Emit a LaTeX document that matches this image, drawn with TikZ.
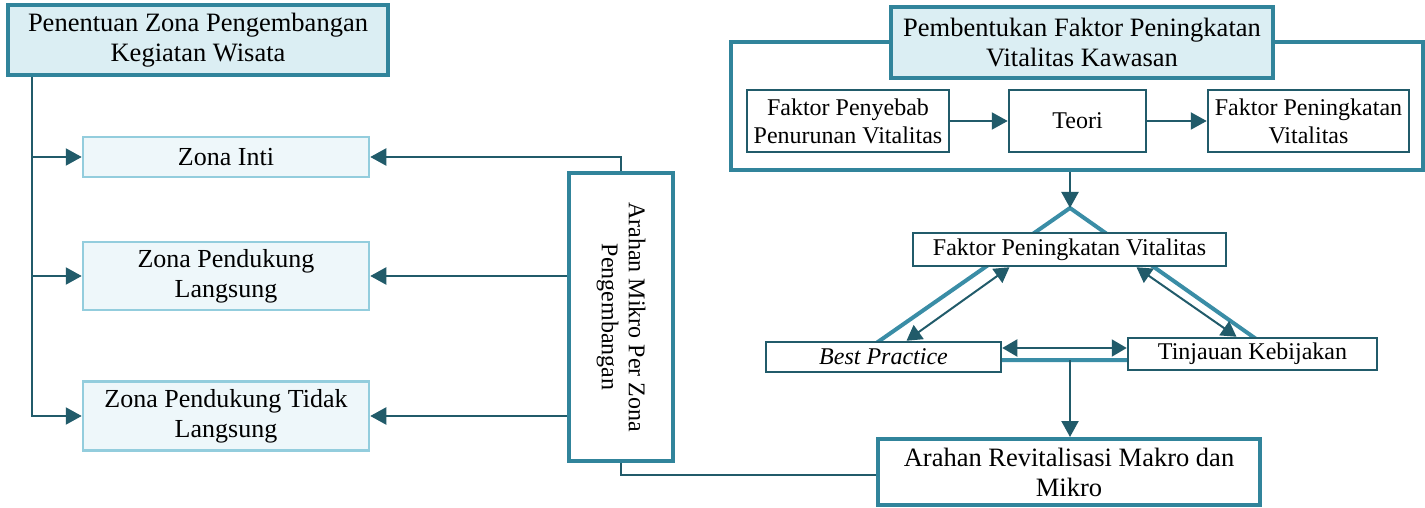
\documentclass[tikz,border=0pt]{standalone}
\usepackage{fontspec}
\setmainfont{Liberation Serif}
\usetikzlibrary{arrows.meta,positioning,calc}
\definecolor{tealdark}{HTML}{215B6A}
\definecolor{tealmid}{HTML}{31849B}
\definecolor{tealtri}{HTML}{3A8DA6}
\definecolor{tealpale}{HTML}{93CDDD}
\definecolor{bluefill}{HTML}{DBEEF3}
\definecolor{zonefill}{HTML}{EEF7FA}
\begin{document}
\begin{tikzpicture}[x=1pt,y=-1pt]

    \tikzstyle{bigbox}=[draw=tealmid,line width=4pt,fill=white,inner sep=0pt,align=center,font=\fontsize{26.5}{30}\selectfont]
    \tikzstyle{headbox}=[bigbox,fill=bluefill]
    \tikzstyle{zonebox}=[draw=tealpale,line width=2.5pt,fill=zonefill,inner sep=0pt,align=center,minimum width=286pt,font=\fontsize{26}{30}\selectfont]
    \tikzstyle{smallbox}=[draw=tealdark,line width=2.5pt,fill=white,inner sep=0pt,align=center,font=\fontsize{24}{28}\selectfont]
    \tikzstyle{arr}=[draw=tealdark,line width=2.2pt,-{Triangle[length=16pt,width=17pt]}]
    \tikzstyle{darr}=[draw=tealdark,line width=2pt,{Triangle[length=15pt,width=17pt]}-{Triangle[length=15pt,width=17pt]}]
    \tikzstyle{tri}=[draw=tealtri,line width=4pt,line join=miter]

\useasboundingbox (0,0) rectangle (1425,508);

\node (pz) [headbox,minimum width=380pt,minimum height=70pt] at (198,40.5) {Penentuan Zona Pengembangan\\Kegiatan Wisata};

\node (zi) [zonebox,minimum height=40pt] at (226,157) {Zona Inti};
\node (zpl) [zonebox,minimum height=68pt] at (226,276) {Zona Pendukung\\Langsung};
\node (zptl) [zonebox,minimum height=69pt] at (226,416) {Zona Pendukung Tidak\\Langsung};

\node (am) [bigbox,minimum width=104pt,minimum height=287pt] at (621,317) {};
\node (amtext) [rotate=-90,align=center,font=\fontsize{24}{27}\selectfont] at (am.center) {Arahan Mikro Per Zona\\Pengembangan};

\node (outer) [bigbox,minimum width=692pt,minimum height=128pt] at (1076.5,106.5) {};
\node (pf) [headbox,minimum width=382pt,minimum height=71pt] at (1082,42.5) {Pembentukan Faktor Peningkatan\\Vitalitas Kawasan};

\node (fpp) [smallbox,minimum width=202pt,minimum height=62pt] at (848,121) {Faktor Penyebab\\Penurunan Vitalitas};
\node (teori) [smallbox,minimum width=137pt,minimum height=62pt] at (1077.5,121) {Teori};
\node (fpk) [smallbox,minimum width=201pt,minimum height=62pt] at (1308.5,121) {Faktor Peningkatan\\Vitalitas};

\coordinate (apex) at (1070,208);
\coordinate (bmid) at (1070,360);
\draw[tri] (apex) -- (852,360) -- (1286,360) -- cycle;

\node (fpv) [smallbox,minimum width=313pt,minimum height=33pt] at (1069.5,249.5) {Faktor Peningkatan Vitalitas};
\node (bp) [smallbox,minimum width=235pt,minimum height=30pt] at (883.5,357) {\itshape Best Practice};
\node (tk) [smallbox,minimum width=249pt,minimum height=32pt] at (1252.5,354) {Tinjauan Kebijakan};

\node (ar) [bigbox,minimum width=382pt,minimum height=66pt] at (1069,472) {Arahan Revitalisasi Makro dan\\Mikro};

\draw[arr] ([xshift=26pt]pz.south west) |- (zi.west);
\draw[arr] ([xshift=26pt]pz.south west) |- (zpl.west);
\draw[arr] ([xshift=26pt]pz.south west) |- (zptl.west);

\draw[arr] (am.north) |- (zi.east);
\draw[arr] (am.west |- zpl.east) -- (zpl.east);
\draw[arr] (am.west |- zptl.east) -- (zptl.east);
\draw[draw=tealdark,line width=2.2pt] (am.south) |- ([yshift=-3pt]ar.west);

\draw[arr] (fpp.east) -- (teori.west);
\draw[arr] (teori.east) -- (fpk.west);
\draw[arr] (outer.south -| apex) -- (apex);

\draw[darr] ([xshift=23pt]bp.north) -- ([xshift=-60pt]fpv.south);
\draw[darr] ([xshift=67pt]fpv.south) -- ([xshift=-16pt]tk.north);
\draw[darr] ([yshift=9pt]bp.east) -- ([yshift=9pt]bp.east -| tk.west);
\draw[arr] (bmid) -- (bmid |- ar.north);

\end{tikzpicture}
\end{document}
